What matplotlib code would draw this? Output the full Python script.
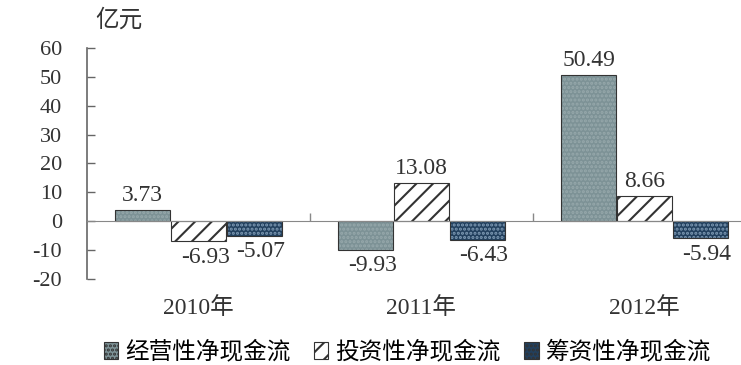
import matplotlib.pyplot as plt
from matplotlib.patches import Patch
from matplotlib.transforms import blended_transform_factory

years = ["2010年", "2011年", "2012年"]
series_names = ["经营性净现金流", "投资性净现金流", "筹资性净现金流"]
operating = [3.73, -9.93, 50.49]
investing = [-6.93, 13.08, 8.66]
financing = [-5.07, -6.43, -5.94]

FONT = ["Liberation Serif", "Noto Sans CJK SC"]
plt.rcParams["font.family"] = FONT
plt.rcParams["axes.unicode_minus"] = False
plt.rcParams["hatch.linewidth"] = 1.5

# face colour, hatch pattern, hatch colour per series
styles = [
    ("#7d9296", "....", "#96a8ab"),
    ("white", "//", "#333333"),
    ("#22405e", "....", "#7f9bb5"),
]

fig = plt.figure(figsize=(7.41, 3.65), dpi=100)
ax = fig.add_axes([0.1174, 0.2364, 0.8826, 0.6321])

width = 0.247
offsets = [-0.25, 0.0, 0.25]
x = list(range(len(years)))

for vals, off, (fc, hatch, hc) in zip([operating, investing, financing], offsets, styles):
    pos = [i + off for i in x]
    ax.bar(pos, vals, width, color=fc, hatch=hatch, edgecolor=hc, linewidth=0)
    ax.bar(pos, vals, width, facecolor="none", edgecolor="#333333", linewidth=0.8)
    for p, v in zip(pos, vals):
        if v >= 0:
            ax.annotate(f"{v:.2f}", (p, v), xytext=(0, 3), textcoords="offset points",
                        ha="center", va="bottom", fontsize=17, color="#333333")
        else:
            ax.annotate(f"{v:.2f}", (p + 0.03, v), xytext=(0, -4), textcoords="offset points",
                        ha="center", va="top", fontsize=17, color="#333333")

ax.set_xlim(-0.5, 2.433)
ax.set_ylim(-20, 60)
ax.set_yticks(range(-20, 61, 10))
ax.tick_params(axis="y", direction="in", length=6, width=1, colors="#666666",
               labelcolor="#333333", labelsize=16, pad=18)

# x axis sits on the zero line, with group separators ticking upward
ax.spines["bottom"].set_position(("data", 0))
ax.set_xticks([0.5, 1.5])
ax.set_xticklabels([])
ax.tick_params(axis="x", direction="in", length=6, width=1, colors="#888888")
for side in ["top", "right"]:
    ax.spines[side].set_visible(False)
ax.spines["left"].set_color("#666666")
ax.spines["bottom"].set_color("#888888")
ax.spines["left"].set_linewidth(1.2)

trans = blended_transform_factory(ax.transData, fig.transFigure)
for i, y in zip(x, years):
    ax.text(i, 0.155, y, transform=trans, ha="center", va="center", fontsize=17,
            color="#333333")

fig.text(0.128, 0.945, "亿元", fontsize=17, ha="left", va="center", color="#333333",
         family=["Noto Sans CJK SC"])

handles = [Patch(facecolor=fc, hatch=h, edgecolor="#333333", linewidth=0.8)
           for fc, h, hc in styles]
fig.legend(handles, series_names, loc="center", bbox_to_anchor=(0.55, 0.035), ncol=3,
           frameon=False, handlelength=0.6, handleheight=0.7,
           handletextpad=0.3, columnspacing=1.0,
           prop={"family": ["Noto Sans CJK SC"], "size": 17})

fig.savefig("out.png", dpi=100, facecolor="white")
